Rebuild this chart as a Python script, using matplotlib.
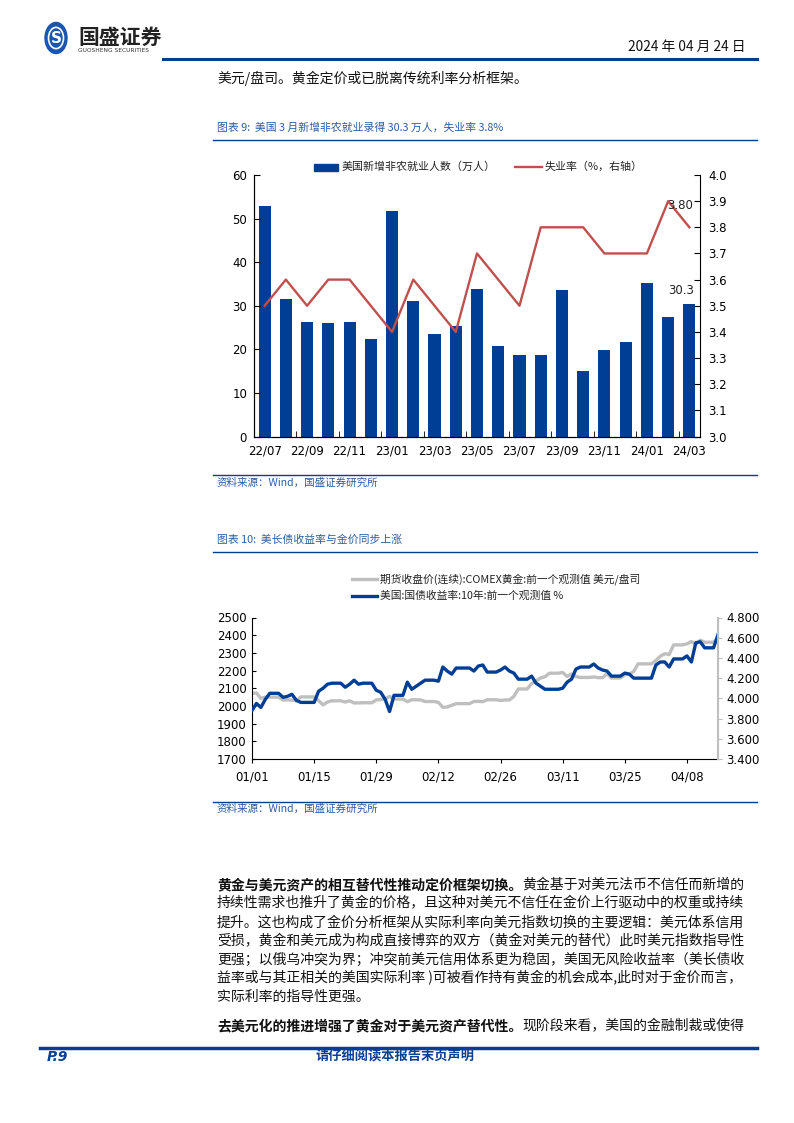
import matplotlib
matplotlib.use('Agg')
import matplotlib.pyplot as plt
import matplotlib.dates as mdates
import pandas as pd
from matplotlib.lines import Line2D
from matplotlib.patches import Rectangle, Circle

plt.rcParams['font.family'] = ['DejaVu Sans', 'Noto Sans CJK SC']
CJK = ['Noto Sans CJK SC', 'DejaVu Sans']

# ---- chart 1 data: 非农 / 失业率
months = ['22/07', '22/08', '22/09', '22/10', '22/11', '22/12', '23/01', '23/02', '23/03', '23/04',
          '23/05', '23/06', '23/07', '23/08', '23/09', '23/10', '23/11', '23/12', '24/01', '24/02', '24/03']
nfp = [52.9, 31.5, 26.3, 26.0, 26.3, 22.4, 51.7, 31.1, 23.5, 25.3,
       33.8, 20.8, 18.7, 18.7, 33.6, 15.0, 19.9, 21.6, 35.3, 27.5, 30.3]
unemp = [3.5, 3.6, 3.5, 3.6, 3.6, 3.5, 3.4, 3.6, 3.5, 3.4,
         3.7, 3.6, 3.5, 3.8, 3.8, 3.8, 3.7, 3.7, 3.7, 3.9, 3.8]

# ---- chart 2 data: 2024-01-01 .. 2024-04-15 daily (weekends = previous value)
start_date = '2024-01-01'
end_date = '2024-04-15'
gold = [2072, 2073, 2043, 2050, 2050, 2050, 2050,
        2033, 2034, 2033, 2029, 2051, 2051, 2051,
        2051, 2030, 2006, 2022, 2029, 2029, 2029,
        2022, 2029, 2017, 2017, 2018, 2018, 2018,
        2034, 2036, 2039, 2054, 2039, 2039, 2039,
        2024, 2035, 2035, 2034, 2025, 2025, 2025,
        2020, 1992, 1994, 2004, 2013, 2013, 2013,
        2013, 2025, 2026, 2024, 2035, 2035, 2035,
        2031, 2034, 2034, 2054, 2096, 2096, 2096,
        2126, 2141, 2158, 2165, 2185, 2185, 2185,
        2189, 2167, 2180, 2166, 2161, 2161, 2161,
        2164, 2160, 2160, 2182, 2158, 2158, 2158,
        2177, 2180, 2195, 2238, 2238, 2238, 2238,
        2257, 2281, 2295, 2291, 2345, 2345, 2345,
        2351, 2364, 2348, 2372, 2360, 2360, 2360,
        2383]
ust10 = [3.88, 3.95, 3.91, 3.99, 4.05, 4.05, 4.05,
         4.01, 4.02, 4.04, 3.98, 3.96, 3.96, 3.96,
         3.96, 4.07, 4.10, 4.14, 4.15, 4.15, 4.15,
         4.11, 4.14, 4.18, 4.14, 4.15, 4.15, 4.15,
         4.08, 4.06, 3.99, 3.87, 4.03, 4.03, 4.03,
         4.16, 4.09, 4.12, 4.15, 4.18, 4.18, 4.18,
         4.17, 4.31, 4.27, 4.24, 4.30, 4.30, 4.30,
         4.30, 4.27, 4.32, 4.33, 4.26, 4.26, 4.26,
         4.28, 4.31, 4.27, 4.25, 4.19, 4.19, 4.19,
         4.22, 4.15, 4.12, 4.09, 4.09, 4.09, 4.09,
         4.10, 4.16, 4.19, 4.29, 4.31, 4.31, 4.31,
         4.34, 4.30, 4.28, 4.27, 4.22, 4.22, 4.22,
         4.25, 4.24, 4.20, 4.20, 4.20, 4.20, 4.20,
         4.33, 4.36, 4.36, 4.31, 4.39, 4.39, 4.39,
         4.42, 4.36, 4.55, 4.56, 4.50, 4.50, 4.50,
         4.63]

W, H = 794, 1123
fig = plt.figure(figsize=(7.94, 11.23), dpi=100)


def fx(x):
    return x / W


def fy(y):
    return 1 - y / H


def hline(x0, x1, y, lw, color):
    fig.add_artist(Line2D([fx(x0), fx(x1)], [fy(y), fy(y)], transform=fig.transFigure, lw=lw, color=color))


BLUE = '#003E96'
NAVY = '#0B3F91'
TBLUE = '#2B5BA5'
RED = '#C0504D'
GRAY = '#BFBFBF'

# ---- header
fig.add_artist(Circle((fx(56), fy(38)), 11 / W, transform=fig.transFigure, color='#1A56B0'))
fig.add_artist(Circle((fx(56), fy(38)), 7.5 / W, transform=fig.transFigure, fill=False, ec='white', lw=1.2))
fig.text(fx(56), fy(38.5), 'S', color='white', fontsize=11, fontweight='bold', ha='center', va='center')
fig.text(fx(78), fy(37), '国盛证券', family=CJK, fontsize=15, fontweight='bold', color='#222222', va='center')
fig.text(fx(78), fy(51), 'GUOSHENG SECURITIES', fontsize=4.2, color='#333333', va='center')
fig.text(fx(745), fy(47), '2024 年 04 月 24 日', family=CJK, fontsize=9.9, ha='right', va='center', color='#111111')
hline(163, 757, 59, 2.2, BLUE)

fig.text(fx(217), fy(78), '美元/盘司。黄金定价或已脱离传统利率分析框架。', family=CJK, fontsize=10, va='center', color='#111111')

# ---- chart 1
fig.text(fx(217), fy(128), '图表 9:  美国 3 月新增非农就业录得 30.3 万人，失业率 3.8%', family=CJK,
         fontsize=7.8, style='italic', color=TBLUE, va='center')
hline(213, 757, 140, 1.0, BLUE)

ax1 = fig.add_axes([fx(254), fy(436.5), (700 - 254) / W, (436.5 - 175) / H])
x = list(range(len(months)))
ax1.bar(x, nfp, width=0.57, color=BLUE)
ax1.set_xlim(-0.5, len(months) - 0.5)
ax1.set_ylim(0, 60)
ax1.set_yticks(range(0, 61, 10))
ax1.set_xticks(x[::2])
ax1.set_xticklabels(months[::2])
ax1.set_xticks([i + 1.5 for i in x[:-1:2]], minor=True)
ax1.tick_params(axis='x', which='major', length=0, pad=6, labelsize=8.5)
ax1.tick_params(axis='x', which='minor', length=4, direction='in')
ax1.tick_params(axis='y', direction='in', length=4, pad=5, labelsize=8.5)
ax1.spines['top'].set_visible(False)
ax1.spines['right'].set_visible(False)

ax1b = ax1.twinx()
ax1b.plot(x, unemp, color=RED, lw=1.7)
ax1b.set_ylim(3.0, 4.0)
ax1b.set_yticks([3.0 + 0.1 * i for i in range(11)])
ax1b.yaxis.set_major_formatter(matplotlib.ticker.FormatStrFormatter('%.1f'))
ax1b.tick_params(axis='y', direction='in', length=4, pad=6, labelsize=8.5)
ax1b.spines['top'].set_visible(False)
ax1b.annotate('%.2f' % unemp[-1], (x[-1], unemp[-1]), xytext=(x[-1] + 0.15, 3.885), ha='right', va='center',
              fontsize=8.5, color='#222222')
ax1.annotate('%.1f' % nfp[-1], (x[-1], nfp[-1]), xytext=(x[-1] - 0.4, 33.5), ha='center', va='center',
             fontsize=8.5, color='#222222')

# chart 1 legend
fig.add_artist(Rectangle((fx(314), fy(170.5)), 24 / W, 6.5 / H, transform=fig.transFigure, color=BLUE))
fig.text(fx(342), fy(166.7), '美国新增非农就业人数（万人）', family=CJK, fontsize=7.9, va='center', color='#222222')
fig.add_artist(Line2D([fx(515), fx(542)], [fy(166.7), fy(166.7)], transform=fig.transFigure, lw=1.7, color=RED))
fig.text(fx(545), fy(166.7), '失业率（%，右轴）', family=CJK, fontsize=7.9, va='center', color='#222222')

hline(213, 757, 475, 1.0, BLUE)
fig.text(fx(217), fy(482.5), '资料来源：Wind，国盛证券研究所', family=CJK, fontsize=7.6, style='italic',
         color=TBLUE, va='center')

# ---- chart 2
fig.text(fx(217), fy(539.5), '图表 10:  美长债收益率与金价同步上涨', family=CJK, fontsize=7.8, style='italic',
         color=TBLUE, va='center')
hline(213, 757, 551.5, 1.0, BLUE)

dates = pd.date_range(start_date, end_date, freq='D')
ax2 = fig.add_axes([fx(252), fy(759), (718 - 252) / W, (759 - 617.5) / H])
ax2.plot(dates, gold, color=GRAY, lw=2.4)
ax2.set_ylim(1700, 2500)
ax2.set_yticks(range(1700, 2501, 100))
ax2.set_xlim(dates[0], dates[-1])
ax2.set_xticks(pd.date_range(start_date, periods=8, freq='14D'))
ax2.xaxis.set_major_formatter(mdates.DateFormatter('%m/%d'))
ax2.tick_params(axis='x', direction='out', length=3, pad=5, labelsize=8.5)
ax2.tick_params(axis='y', direction='in', length=3, pad=4, labelsize=8.5)
ax2.spines['top'].set_visible(False)
ax2.spines['right'].set_visible(False)

ax2b = ax2.twinx()
ax2b.plot(dates, ust10, color=BLUE, lw=2.4)
ax2b.set_ylim(3.4, 4.8)
ax2b.set_yticks([3.4 + 0.2 * i for i in range(8)])
ax2b.yaxis.set_major_formatter(matplotlib.ticker.FormatStrFormatter('%.3f'))
ax2b.tick_params(axis='y', direction='out', length=3, pad=3, labelsize=8.5, color=GRAY)
ax2b.spines['top'].set_visible(False)
ax2b.spines['right'].set_color(GRAY)
ax2b.spines['right'].set_linewidth(1.5)
ax2b.spines['left'].set_visible(False)
ax2b.spines['bottom'].set_visible(False)

fig.add_artist(Line2D([fx(352), fx(377)], [fy(579), fy(579)], transform=fig.transFigure, lw=2.4, color=GRAY))
fig.text(fx(380), fy(579), '期货收盘价(连续):COMEX黄金:前一个观测值 美元/盘司', family=CJK, fontsize=7.75,
         va='center', color='#222222')
fig.add_artist(Line2D([fx(352), fx(377)], [fy(596), fy(596)], transform=fig.transFigure, lw=2.4, color=BLUE))
fig.text(fx(380), fy(596), '美国:国债收益率:10年:前一个观测值 %', family=CJK, fontsize=7.75,
         va='center', color='#222222')

hline(213, 757, 802, 1.0, BLUE)
fig.text(fx(217), fy(808.5), '资料来源：Wind，国盛证券研究所', family=CJK, fontsize=7.6, style='italic',
         color=TBLUE, va='center')

# ---- body text
para_lines = [
    [('黄金与美元资产的相互替代性推动定价框架切换。', True), ('黄金基于对美元法币不信任而新增的', False)],
    [('持续性需求也推升了黄金的价格，且这种对美元不信任在金价上行驱动中的权重或持续', False)],
    [('提升。这也构成了金价分析框架从实际利率向美元指数切换的主要逻辑：美元体系信用', False)],
    [('受损，黄金和美元成为构成直接博弈的双方（黄金对美元的替代）此时美元指数指导性', False)],
    [('更强；以俄乌冲突为界；冲突前美元信用体系更为稳固，美国无风险收益率（美长债收', False)],
    [('益率或与其正相关的美国实际利率 )可被看作持有黄金的机会成本,此时对于金价而言，', False)],
    [('实际利率的指导性更强。', False)],
]
line_y = [885, 903.6, 922.2, 940.8, 959.4, 978, 996.6]
para2 = [('去美元化的推进增强了黄金对于美元资产替代性。', True), ('现阶段来看，美国的金融制裁或使得', False)]

renderer = fig.canvas.get_renderer()


def put_line(segs, y):
    xpos = fx(217)
    for txt, bold in segs:
        t = fig.text(xpos, fy(y), txt, family=CJK, fontsize=10, va='center', color='#111111',
                     fontweight='bold' if bold else 'normal')
        xpos = t.get_window_extent(renderer=renderer).x1 / W


for segs, y in zip(para_lines, line_y):
    put_line(segs, y)
put_line(para2, 1026.7)

# ---- footer
hline(40, 757, 1047.5, 2.5, BLUE)
fig.text(fx(47), fy(1057), 'P.9', fontsize=10, fontweight='bold', style='italic', color=NAVY, va='center')
fig.text(fx(395), fy(1057), '请仔细阅读本报告末页声明', family=CJK, fontsize=9.5, fontweight='bold',
         style='italic', color=NAVY, va='center', ha='center')

fig.savefig('out.png', dpi=100)
